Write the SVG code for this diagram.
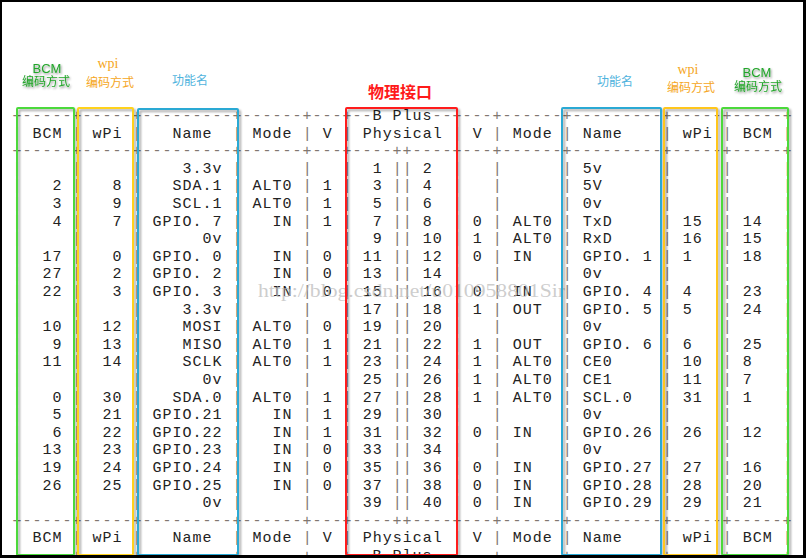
<svg xmlns="http://www.w3.org/2000/svg" width="806" height="558" viewBox="0 0 806 558">
<defs>
<style>
.mono{font-family:"Liberation Mono","DejaVu Sans Mono",monospace;font-size:15px;letter-spacing:1px;white-space:pre;fill:#222}
.g{fill:#817770}
.box{fill:none;stroke-width:2}
.cjk{font-family:"Noto Sans CJK SC","Noto Sans",sans-serif;text-anchor:middle}
.lat{font-family:"Liberation Sans",sans-serif;text-anchor:middle}
.ser{font-family:"Liberation Serif",serif;text-anchor:middle}
.green{fill:#22a52a}
.orange{fill:#f5a623}
.blue{fill:#4fb3dd}
</style>
<filter id="sh" x="-10%" y="-10%" width="120%" height="120%">
<feDropShadow dx="2" dy="2" stdDeviation="1.3" flood-color="#000" flood-opacity="0.35"/>
</filter>
<filter id="tsh" x="-20%" y="-30%" width="140%" height="160%">
<feDropShadow dx="1" dy="1.5" stdDeviation="1.2" flood-color="#000" flood-opacity="0.45"/>
</filter>
</defs>
<rect width="806" height="558" fill="#fff"/>

<g id="labels">
<g id="label-bcm-left" filter="url(#tsh)">
<text class="lat green" x="47" y="73" font-size="13">BCM</text>
<text class="cjk green" x="46" y="86" font-size="12">编码方式</text>
</g>
<g id="label-wpi-left">
<text class="ser orange" x="108" y="68" font-size="14">wpi</text>
<text class="cjk orange" x="110" y="87" font-size="12">编码方式</text>
</g>
<g id="label-name-left">
<text class="cjk blue" x="190" y="85" font-size="12">功能名</text>
</g>
<g id="label-physical">
<text class="cjk" x="400" y="98" font-size="16" font-weight="bold" fill="#ff1a1a">物理接口</text>
</g>
<g id="label-name-right">
<text class="cjk blue" x="615" y="86" font-size="12">功能名</text>
</g>
<g id="label-wpi-right">
<text class="ser orange" x="688" y="74" font-size="14">wpi</text>
<text class="cjk orange" x="691" y="92" font-size="12">编码方式</text>
</g>
<g id="label-bcm-right" filter="url(#tsh)">
<text class="lat green" x="757" y="77" font-size="13">BCM</text>
<text class="cjk green" x="758" y="91" font-size="12">编码方式</text>
</g>
</g>

<g id="table" class="mono">
<text id="top-border" xml:space="preserve" x="12.5" y="120"><tspan class="g">+-----+-----+---------+------+---+--</tspan>B Plus<tspan class="g">--+---+------+---------+-----+-----+</tspan></text>
<text id="header" xml:space="preserve" x="12.5" y="137.6"><tspan class="g">|</tspan> BCM <tspan class="g">|</tspan> wPi <tspan class="g">|</tspan>   Name  <tspan class="g">|</tspan> Mode <tspan class="g">|</tspan> V <tspan class="g">|</tspan> Physical <tspan class="g">|</tspan> V <tspan class="g">|</tspan> Mode <tspan class="g">|</tspan> Name    <tspan class="g">|</tspan> wPi <tspan class="g">|</tspan> BCM <tspan class="g">|</tspan></text>
<text id="header-sep" class="g" xml:space="preserve" x="12.5" y="155.2">+-----+-----+---------+------+---+----++----+---+------+---------+-----+-----+</text>

<text id="row-1-2" xml:space="preserve" x="12.5" y="172.8"><tspan class="g">|</tspan>     <tspan class="g">|</tspan>     <tspan class="g">|</tspan>    3.3v <tspan class="g">|</tspan>      <tspan class="g">|</tspan>   <tspan class="g">|</tspan>  1 <tspan class="g">||</tspan> 2  <tspan class="g">|</tspan>   <tspan class="g">|</tspan>      <tspan class="g">|</tspan> 5v      <tspan class="g">|</tspan>     <tspan class="g">|</tspan>     <tspan class="g">|</tspan></text>
<text id="row-3-4" xml:space="preserve" x="12.5" y="190.4"><tspan class="g">|</tspan>   2 <tspan class="g">|</tspan>   8 <tspan class="g">|</tspan>   SDA.1 <tspan class="g">|</tspan> ALT0 <tspan class="g">|</tspan> 1 <tspan class="g">|</tspan>  3 <tspan class="g">||</tspan> 4  <tspan class="g">|</tspan>   <tspan class="g">|</tspan>      <tspan class="g">|</tspan> 5V      <tspan class="g">|</tspan>     <tspan class="g">|</tspan>     <tspan class="g">|</tspan></text>
<text id="row-5-6" xml:space="preserve" x="12.5" y="208"><tspan class="g">|</tspan>   3 <tspan class="g">|</tspan>   9 <tspan class="g">|</tspan>   SCL.1 <tspan class="g">|</tspan> ALT0 <tspan class="g">|</tspan> 1 <tspan class="g">|</tspan>  5 <tspan class="g">||</tspan> 6  <tspan class="g">|</tspan>   <tspan class="g">|</tspan>      <tspan class="g">|</tspan> 0v      <tspan class="g">|</tspan>     <tspan class="g">|</tspan>     <tspan class="g">|</tspan></text>
<text id="row-7-8" xml:space="preserve" x="12.5" y="225.6"><tspan class="g">|</tspan>   4 <tspan class="g">|</tspan>   7 <tspan class="g">|</tspan> GPIO. 7 <tspan class="g">|</tspan>   IN <tspan class="g">|</tspan> 1 <tspan class="g">|</tspan>  7 <tspan class="g">||</tspan> 8  <tspan class="g">|</tspan> 0 <tspan class="g">|</tspan> ALT0 <tspan class="g">|</tspan> TxD     <tspan class="g">|</tspan> 15  <tspan class="g">|</tspan> 14  <tspan class="g">|</tspan></text>
<text id="row-9-10" xml:space="preserve" x="12.5" y="243.2"><tspan class="g">|</tspan>     <tspan class="g">|</tspan>     <tspan class="g">|</tspan>      0v <tspan class="g">|</tspan>      <tspan class="g">|</tspan>   <tspan class="g">|</tspan>  9 <tspan class="g">||</tspan> 10 <tspan class="g">|</tspan> 1 <tspan class="g">|</tspan> ALT0 <tspan class="g">|</tspan> RxD     <tspan class="g">|</tspan> 16  <tspan class="g">|</tspan> 15  <tspan class="g">|</tspan></text>
<text id="row-11-12" xml:space="preserve" x="12.5" y="260.8"><tspan class="g">|</tspan>  17 <tspan class="g">|</tspan>   0 <tspan class="g">|</tspan> GPIO. 0 <tspan class="g">|</tspan>   IN <tspan class="g">|</tspan> 0 <tspan class="g">|</tspan> 11 <tspan class="g">||</tspan> 12 <tspan class="g">|</tspan> 0 <tspan class="g">|</tspan> IN   <tspan class="g">|</tspan> GPIO. 1 <tspan class="g">|</tspan> 1   <tspan class="g">|</tspan> 18  <tspan class="g">|</tspan></text>
<text id="row-13-14" xml:space="preserve" x="12.5" y="278.4"><tspan class="g">|</tspan>  27 <tspan class="g">|</tspan>   2 <tspan class="g">|</tspan> GPIO. 2 <tspan class="g">|</tspan>   IN <tspan class="g">|</tspan> 0 <tspan class="g">|</tspan> 13 <tspan class="g">||</tspan> 14 <tspan class="g">|</tspan>   <tspan class="g">|</tspan>      <tspan class="g">|</tspan> 0v      <tspan class="g">|</tspan>     <tspan class="g">|</tspan>     <tspan class="g">|</tspan></text>
<text id="row-15-16" xml:space="preserve" x="12.5" y="296"><tspan class="g">|</tspan>  22 <tspan class="g">|</tspan>   3 <tspan class="g">|</tspan> GPIO. 3 <tspan class="g">|</tspan>   IN <tspan class="g">|</tspan> 0 <tspan class="g">|</tspan> 15 <tspan class="g">||</tspan> 16 <tspan class="g">|</tspan> 0 <tspan class="g">|</tspan> IN   <tspan class="g">|</tspan> GPIO. 4 <tspan class="g">|</tspan> 4   <tspan class="g">|</tspan> 23  <tspan class="g">|</tspan></text>
<text id="row-17-18" xml:space="preserve" x="12.5" y="313.6"><tspan class="g">|</tspan>     <tspan class="g">|</tspan>     <tspan class="g">|</tspan>    3.3v <tspan class="g">|</tspan>      <tspan class="g">|</tspan>   <tspan class="g">|</tspan> 17 <tspan class="g">||</tspan> 18 <tspan class="g">|</tspan> 1 <tspan class="g">|</tspan> OUT  <tspan class="g">|</tspan> GPIO. 5 <tspan class="g">|</tspan> 5   <tspan class="g">|</tspan> 24  <tspan class="g">|</tspan></text>
<text id="row-19-20" xml:space="preserve" x="12.5" y="331.2"><tspan class="g">|</tspan>  10 <tspan class="g">|</tspan>  12 <tspan class="g">|</tspan>    MOSI <tspan class="g">|</tspan> ALT0 <tspan class="g">|</tspan> 0 <tspan class="g">|</tspan> 19 <tspan class="g">||</tspan> 20 <tspan class="g">|</tspan>   <tspan class="g">|</tspan>      <tspan class="g">|</tspan> 0v      <tspan class="g">|</tspan>     <tspan class="g">|</tspan>     <tspan class="g">|</tspan></text>
<text id="row-21-22" xml:space="preserve" x="12.5" y="348.8"><tspan class="g">|</tspan>   9 <tspan class="g">|</tspan>  13 <tspan class="g">|</tspan>    MISO <tspan class="g">|</tspan> ALT0 <tspan class="g">|</tspan> 1 <tspan class="g">|</tspan> 21 <tspan class="g">||</tspan> 22 <tspan class="g">|</tspan> 1 <tspan class="g">|</tspan> OUT  <tspan class="g">|</tspan> GPIO. 6 <tspan class="g">|</tspan> 6   <tspan class="g">|</tspan> 25  <tspan class="g">|</tspan></text>
<text id="row-23-24" xml:space="preserve" x="12.5" y="366.4"><tspan class="g">|</tspan>  11 <tspan class="g">|</tspan>  14 <tspan class="g">|</tspan>    SCLK <tspan class="g">|</tspan> ALT0 <tspan class="g">|</tspan> 1 <tspan class="g">|</tspan> 23 <tspan class="g">||</tspan> 24 <tspan class="g">|</tspan> 1 <tspan class="g">|</tspan> ALT0 <tspan class="g">|</tspan> CE0     <tspan class="g">|</tspan> 10  <tspan class="g">|</tspan> 8   <tspan class="g">|</tspan></text>
<text id="row-25-26" xml:space="preserve" x="12.5" y="384"><tspan class="g">|</tspan>     <tspan class="g">|</tspan>     <tspan class="g">|</tspan>      0v <tspan class="g">|</tspan>      <tspan class="g">|</tspan>   <tspan class="g">|</tspan> 25 <tspan class="g">||</tspan> 26 <tspan class="g">|</tspan> 1 <tspan class="g">|</tspan> ALT0 <tspan class="g">|</tspan> CE1     <tspan class="g">|</tspan> 11  <tspan class="g">|</tspan> 7   <tspan class="g">|</tspan></text>
<text id="row-27-28" xml:space="preserve" x="12.5" y="401.6"><tspan class="g">|</tspan>   0 <tspan class="g">|</tspan>  30 <tspan class="g">|</tspan>   SDA.0 <tspan class="g">|</tspan> ALT0 <tspan class="g">|</tspan> 1 <tspan class="g">|</tspan> 27 <tspan class="g">||</tspan> 28 <tspan class="g">|</tspan> 1 <tspan class="g">|</tspan> ALT0 <tspan class="g">|</tspan> SCL.0   <tspan class="g">|</tspan> 31  <tspan class="g">|</tspan> 1   <tspan class="g">|</tspan></text>
<text id="row-29-30" xml:space="preserve" x="12.5" y="419.2"><tspan class="g">|</tspan>   5 <tspan class="g">|</tspan>  21 <tspan class="g">|</tspan> GPIO.21 <tspan class="g">|</tspan>   IN <tspan class="g">|</tspan> 1 <tspan class="g">|</tspan> 29 <tspan class="g">||</tspan> 30 <tspan class="g">|</tspan>   <tspan class="g">|</tspan>      <tspan class="g">|</tspan> 0v      <tspan class="g">|</tspan>     <tspan class="g">|</tspan>     <tspan class="g">|</tspan></text>
<text id="row-31-32" xml:space="preserve" x="12.5" y="436.8"><tspan class="g">|</tspan>   6 <tspan class="g">|</tspan>  22 <tspan class="g">|</tspan> GPIO.22 <tspan class="g">|</tspan>   IN <tspan class="g">|</tspan> 1 <tspan class="g">|</tspan> 31 <tspan class="g">||</tspan> 32 <tspan class="g">|</tspan> 0 <tspan class="g">|</tspan> IN   <tspan class="g">|</tspan> GPIO.26 <tspan class="g">|</tspan> 26  <tspan class="g">|</tspan> 12  <tspan class="g">|</tspan></text>
<text id="row-33-34" xml:space="preserve" x="12.5" y="454.4"><tspan class="g">|</tspan>  13 <tspan class="g">|</tspan>  23 <tspan class="g">|</tspan> GPIO.23 <tspan class="g">|</tspan>   IN <tspan class="g">|</tspan> 0 <tspan class="g">|</tspan> 33 <tspan class="g">||</tspan> 34 <tspan class="g">|</tspan>   <tspan class="g">|</tspan>      <tspan class="g">|</tspan> 0v      <tspan class="g">|</tspan>     <tspan class="g">|</tspan>     <tspan class="g">|</tspan></text>
<text id="row-35-36" xml:space="preserve" x="12.5" y="472"><tspan class="g">|</tspan>  19 <tspan class="g">|</tspan>  24 <tspan class="g">|</tspan> GPIO.24 <tspan class="g">|</tspan>   IN <tspan class="g">|</tspan> 0 <tspan class="g">|</tspan> 35 <tspan class="g">||</tspan> 36 <tspan class="g">|</tspan> 0 <tspan class="g">|</tspan> IN   <tspan class="g">|</tspan> GPIO.27 <tspan class="g">|</tspan> 27  <tspan class="g">|</tspan> 16  <tspan class="g">|</tspan></text>
<text id="row-37-38" xml:space="preserve" x="12.5" y="489.6"><tspan class="g">|</tspan>  26 <tspan class="g">|</tspan>  25 <tspan class="g">|</tspan> GPIO.25 <tspan class="g">|</tspan>   IN <tspan class="g">|</tspan> 0 <tspan class="g">|</tspan> 37 <tspan class="g">||</tspan> 38 <tspan class="g">|</tspan> 0 <tspan class="g">|</tspan> IN   <tspan class="g">|</tspan> GPIO.28 <tspan class="g">|</tspan> 28  <tspan class="g">|</tspan> 20  <tspan class="g">|</tspan></text>
<text id="row-39-40" xml:space="preserve" x="12.5" y="507.2"><tspan class="g">|</tspan>     <tspan class="g">|</tspan>     <tspan class="g">|</tspan>      0v <tspan class="g">|</tspan>      <tspan class="g">|</tspan>   <tspan class="g">|</tspan> 39 <tspan class="g">||</tspan> 40 <tspan class="g">|</tspan> 0 <tspan class="g">|</tspan> IN   <tspan class="g">|</tspan> GPIO.29 <tspan class="g">|</tspan> 29  <tspan class="g">|</tspan> 21  <tspan class="g">|</tspan></text>

<text id="footer-sep" class="g" xml:space="preserve" x="12.5" y="524.8">+-----+-----+---------+------+---+----++----+---+------+---------+-----+-----+</text>
<text id="footer" xml:space="preserve" x="12.5" y="542.4"><tspan class="g">|</tspan> BCM <tspan class="g">|</tspan> wPi <tspan class="g">|</tspan>   Name  <tspan class="g">|</tspan> Mode <tspan class="g">|</tspan> V <tspan class="g">|</tspan> Physical <tspan class="g">|</tspan> V <tspan class="g">|</tspan> Mode <tspan class="g">|</tspan> Name    <tspan class="g">|</tspan> wPi <tspan class="g">|</tspan> BCM <tspan class="g">|</tspan></text>
<text id="bottom-border" xml:space="preserve" x="12.5" y="560"><tspan class="g">+-----+-----+---------+------+---+--</tspan>B Plus<tspan class="g">--+---+------+---------+-----+-----+</tspan></text>
</g>

<text id="watermark" x="258" y="297" font-family="Liberation Serif,serif" font-size="19" fill="#bdbdbd" fill-opacity="0.75" textLength="307" lengthAdjust="spacingAndGlyphs">http://blog.csdn.net/u010958801Sir</text>

<g id="highlights" filter="url(#sh)">
<g id="box-bcm-left"><rect class="box" x="17" y="108" width="57" height="447" rx="1" stroke="#4cd93a"/></g>
<g id="box-wpi-left"><rect class="box" x="78" y="108" width="55" height="447" rx="1" stroke="#ffd21a"/></g>
<g id="box-name-left"><rect class="box" x="138" y="109" width="100" height="446" rx="1" stroke="#2ca9d4"/></g>
<g id="box-physical"><rect class="box" x="346" y="108" width="111" height="447" rx="1" stroke="#ff1a1a"/></g>
<g id="box-name-right"><rect class="box" x="562" y="108" width="99" height="447" rx="1" stroke="#2ca9d4"/></g>
<g id="box-wpi-right"><rect class="box" x="664" y="108" width="53" height="447" rx="1" stroke="#ffc61a"/></g>
<g id="box-bcm-right"><rect class="box" x="722" y="108" width="66" height="447" rx="1" stroke="#4cd93a"/></g>
</g>

<g id="frame" fill="#000">
<rect x="0" y="0" width="806" height="2"/>
<rect x="0" y="0" width="2" height="558"/>
<rect x="803" y="0" width="3" height="558"/>
<rect x="0" y="555" width="806" height="3"/>
</g>
</svg>
